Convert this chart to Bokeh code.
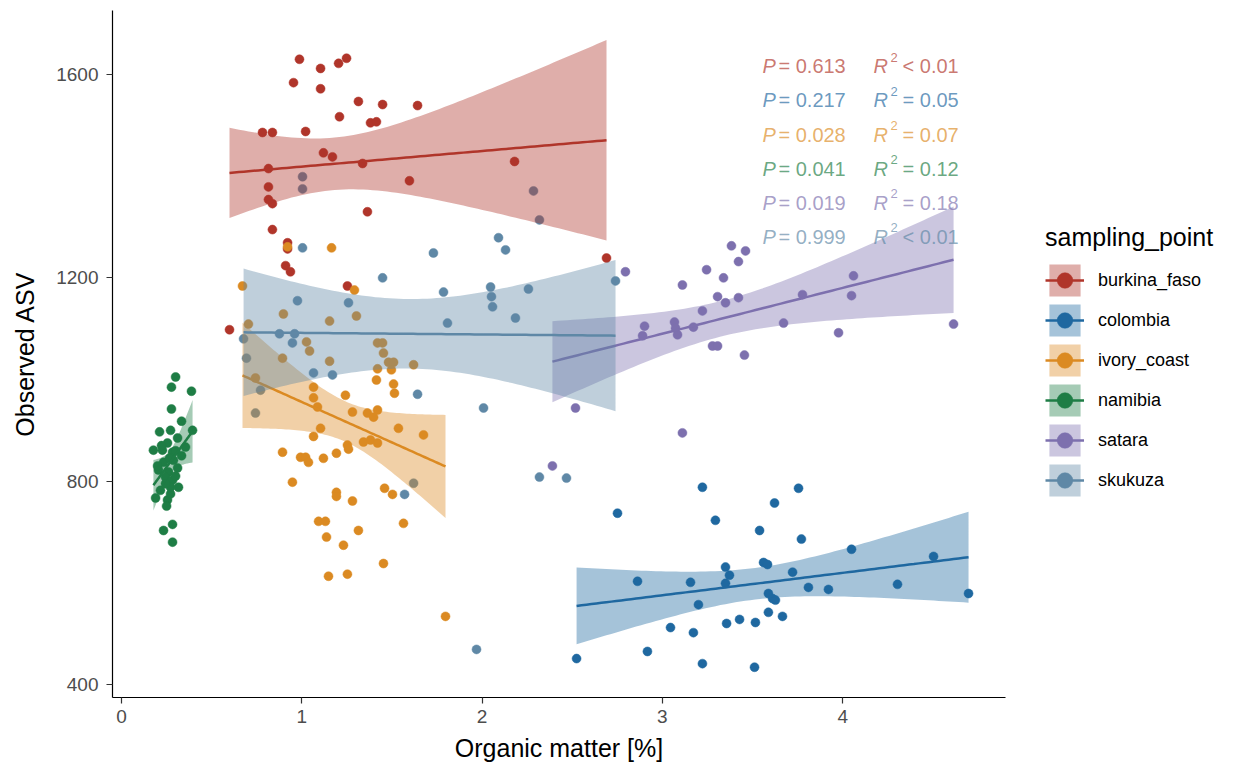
import numpy as np
from bokeh.plotting import figure
from bokeh.models import Range1d, Legend, LegendItem, Label, FixedTicker
from bokeh.embed import file_html
from bokeh.resources import INLINE

# ---------------- data ----------------
groups = ["burkina_faso", "colombia", "ivory_coast", "namibia", "satara", "skukuza"]
group_colors = ["#B0352A", "#1F68A0", "#DB8A22", "#1E7D45", "#7D70AE", "#5F88A6"]

burkina_x = [0.987, 1.104, 1.204, 1.248, 0.954, 1.104, 1.314, 1.448, 1.642, 1.209, 1.381, 1.414,
             0.782, 0.837, 1.021, 1.120, 1.170, 0.815, 1.337, 2.180, 1.597, 0.815, 0.815, 0.837,
             1.364, 2.690, 0.837, 0.921, 0.921, 0.910, 0.937, 1.253, 0.599]
burkina_y = [1630, 1612, 1622, 1632, 1584, 1572, 1547, 1541, 1539, 1517, 1505, 1507,
             1486, 1486, 1488, 1446, 1438, 1415, 1425, 1429, 1391, 1379, 1354, 1346,
             1330, 1239, 1295, 1269, 1257, 1224, 1212, 1184, 1098]

colombia_x = [3.222, 3.755, 3.622, 2.751, 3.294, 3.539, 3.771, 4.049, 4.504, 2.862, 3.156, 3.350,
              3.372, 3.350, 3.561, 3.583, 3.722, 3.810, 3.921, 4.304, 4.698, 3.200, 3.588, 3.611,
              3.627, 3.588, 3.666, 3.045, 3.172, 3.356, 3.428, 3.516, 2.524, 2.917, 3.222, 3.511]
colombia_y = [788, 786, 757, 737, 723, 703, 686, 666, 652, 603, 601, 631,
              615, 599, 640, 636, 621, 591, 587, 597, 579, 557, 579, 569,
              566, 542, 534, 512, 502, 520, 528, 522, 451, 465, 441, 434]

ivory_x = [0.671, 0.704, 0.743, 1.165, 0.921, 1.292, 0.898, 1.154, 1.303, 1.026, 1.043, 1.420,
           1.448, 1.453, 1.481, 1.509, 1.497, 0.893, 1.154, 1.620, 1.420, 1.414, 1.509, 1.514,
           1.065, 1.242, 1.065, 1.087, 1.281, 1.364, 1.398, 1.420, 1.536, 1.104, 1.675, 1.065,
           1.342, 1.381, 1.420, 0.893, 0.993, 1.021, 1.037, 1.120, 1.192, 1.253, 1.259, 0.948,
           1.192, 1.192, 1.281, 1.459, 1.503, 1.093, 1.131, 1.314, 1.564, 1.137, 1.231, 1.453,
           1.148, 1.253, 1.797]
ivory_y = [1184, 1109, 1003, 1259, 1261, 1176, 1129, 1115, 1125, 1074, 1056, 1072,
           1072, 1052, 1034, 1034, 1019, 1042, 1036, 1029, 1021, 999, 991, 973,
           985, 969, 964, 946, 936, 934, 926, 940, 904, 904, 891, 888,
           877, 881, 875, 857, 847, 847, 837, 845, 855, 871, 863, 798,
           778, 770, 761, 786, 774, 721, 721, 703, 717, 690, 674, 638,
           613, 617, 534]

namibia_x = [0.300, 0.277, 0.388, 0.277, 0.333, 0.211, 0.272, 0.394, 0.311, 0.255,
             0.177, 0.227, 0.283, 0.355, 0.233, 0.288, 0.205, 0.261, 0.311, 0.244,
             0.283, 0.216, 0.272, 0.316, 0.189, 0.255, 0.250, 0.233, 0.283, 0.283,
             0.222, 0.300, 0.266, 0.244, 0.300, 0.200, 0.272, 0.333]
namibia_y = [1005, 985, 977, 942, 918, 897, 900, 900, 885, 875,
             861, 861, 857, 867, 837, 841, 822, 818, 826, 808,
             802, 782, 788, 788, 767, 763, 751, 703, 715, 680,
             870, 860, 845, 795, 810, 830, 775, 850]

satara_x = [3.383, 3.461, 3.422, 3.245, 3.339, 2.795, 3.111, 3.306, 3.350, 3.422, 3.222, 4.060,
            4.049, 3.777, 3.672, 3.977, 4.615, 2.901, 2.890, 3.067, 3.073, 3.084, 3.172, 3.278,
            3.306, 3.455, 2.518, 3.111, 2.390]
satara_y = [1263, 1253, 1232, 1216, 1200, 1212, 1186, 1163, 1151, 1161, 1135, 1204,
            1165, 1167, 1111, 1092, 1109, 1105, 1086, 1113, 1101, 1088, 1103, 1066,
            1066, 1048, 944, 895, 830]

skukuza_x = [1.004, 1.004, 1.004, 2.285, 2.318, 2.091, 2.130, 1.730, 1.448, 1.786, 2.047, 2.052,
             2.058, 2.257, 1.808, 2.185, 2.740, 2.008, 0.976, 1.259, 0.876, 0.960, 0.948, 1.170,
             1.065, 1.642, 1.620, 1.570, 1.969, 0.677, 0.693, 0.771, 0.743, 2.318, 2.468]
skukuza_y = [1399, 1375, 1259, 1371, 1314, 1279, 1255, 1249, 1200, 1172, 1182, 1163,
             1143, 1178, 1111, 1121, 1194, 944, 1155, 1151, 1090, 1090, 1072, 1009,
             1013, 971, 796, 774, 469, 1080, 1042, 979, 934, 808, 806]

group_x = [burkina_x, colombia_x, ivory_x, namibia_x, satara_x, skukuza_x]
group_y = [burkina_y, colombia_y, ivory_y, namibia_y, satara_y, skukuza_y]

p_values = ["0.613", "0.217", "0.028", "0.041", "0.019", "0.999"]
r2_values = ["< 0.01", "= 0.05", "= 0.07", "= 0.12", "= 0.18", "< 0.01"]

x_ticks = [0, 1, 2, 3, 4]
y_ticks = [400, 800, 1200, 1600]

FONT = "Liberation Sans"


def t975(df):
    z = 1.959964
    g1 = (z ** 3 + z) / 4
    g2 = (5 * z ** 5 + 16 * z ** 3 + 3 * z) / 96
    g3 = (3 * z ** 7 + 19 * z ** 5 + 17 * z ** 3 - 15 * z) / 384
    return z + g1 / df + g2 / df ** 2 + g3 / df ** 3


def lm_band(xs, ys):
    x = np.asarray(xs, float)
    y = np.asarray(ys, float)
    n = len(x)
    xm = x.mean()
    sxx = ((x - xm) ** 2).sum()
    b = ((x - xm) * (y - y.mean())).sum() / sxx
    a = y.mean() - b * xm
    resid = y - (a + b * x)
    s = np.sqrt((resid ** 2).sum() / (n - 2))
    grid = np.linspace(x.min(), x.max(), 80)
    fit = a + b * grid
    se = s * np.sqrt(1.0 / n + (grid - xm) ** 2 / sxx)
    t = t975(n - 2)
    return grid, fit, fit - t * se, fit + t * se


p = figure(frame_width=893, frame_height=687,
           x_range=Range1d(-0.05, 4.903), y_range=Range1d(374.4, 1726),
           output_backend="svg", toolbar_location=None,
           min_border_left=112, min_border_top=10, min_border_bottom=77, min_border_right=5,
           background_fill_color="white", border_fill_color="white")
p.outline_line_color = None
p.xgrid.visible = False
p.ygrid.visible = False

# points first
pt_renderers = []
for gx, gy, col in zip(group_x, group_y, group_colors):
    r = p.scatter(gx, gy, size=9, fill_color=col, line_color=col, line_width=0.5)
    pt_renderers.append(r)

# smooths (ribbon + line) per group on top
band_renderers = []
line_renderers = []
for gx, gy, col in zip(group_x, group_y, group_colors):
    grid, fit, lo, hi = lm_band(gx, gy)
    br = p.varea(x=grid, y1=lo, y2=hi, fill_color=col, fill_alpha=0.4)
    lr = p.line(grid, fit, line_color=col, line_width=2.5)
    band_renderers.append(br)
    line_renderers.append(lr)

# axes
for ax in (p.xaxis[0], p.yaxis[0]):
    ax.axis_line_color = "black"
    ax.axis_line_width = 1.2
    ax.major_tick_line_color = "#333333"
    ax.major_tick_line_width = 1.2
    ax.major_tick_out = 6
    ax.major_tick_in = 0
    ax.minor_tick_line_color = None
    ax.major_label_text_font = FONT
    ax.major_label_text_font_size = "19px"
    ax.major_label_text_color = "#4D4D4D"
    ax.axis_label_text_font = FONT
    ax.axis_label_text_font_size = "25px"
    ax.axis_label_text_font_style = "normal"
    ax.axis_label_text_color = "black"

p.xaxis.ticker = FixedTicker(ticks=x_ticks)
p.yaxis.ticker = FixedTicker(ticks=y_ticks)
p.xaxis.axis_label = "Organic matter [%]"
p.yaxis.axis_label = "Observed ASV"
p.xaxis.major_label_standoff = 6
p.yaxis.major_label_standoff = 8
p.xaxis.axis_label_standoff = 8
p.yaxis.axis_label_standoff = 14

# annotations
row_top = 1616
row_step = 67
for i, (pv, rv, col) in enumerate(zip(p_values, r2_values, group_colors)):
    yy = row_top - i * row_step
    common = dict(y=yy, text_baseline="middle", text_color=col, text_alpha=0.68, text_font=FONT)
    p.add_layout(Label(x=3.555, text="P", text_font_style="italic", text_font_size="20px", **common))
    p.add_layout(Label(x=3.555, x_offset=16, text="= " + pv, text_font_size="20px", **common))
    p.add_layout(Label(x=4.171, text="R", text_font_style="italic", text_font_size="20px", **common))
    p.add_layout(Label(x=4.171, x_offset=17, y_offset=9, text="2", text_font_size="13px", **common))
    p.add_layout(Label(x=4.171, x_offset=29, text=rv, text_font_size="20px", **common))

# legend (in the right-hand side panel)
items = [LegendItem(label=g, renderers=[b, l, s])
         for g, b, l, s in zip(groups, band_renderers, line_renderers, pt_renderers)]
legend = Legend(items=items, title="sampling_point", location=(40, 197))
legend.title_text_font = FONT
legend.title_text_font_size = "25px"
legend.title_text_font_style = "normal"
legend.title_text_color = "black"
legend.title_standoff = 8
legend.label_text_font = FONT
legend.label_text_font_size = "18px"
legend.label_text_color = "black"
legend.glyph_width = 39
legend.glyph_height = 40
legend.label_height = 40
legend.spacing = 0
legend.label_standoff = 14
legend.padding = 5
legend.margin = 40
legend.border_line_color = None
legend.background_fill_alpha = 0
p.add_layout(legend, "right")

open("out.html", "w").write(file_html(p, INLINE))
